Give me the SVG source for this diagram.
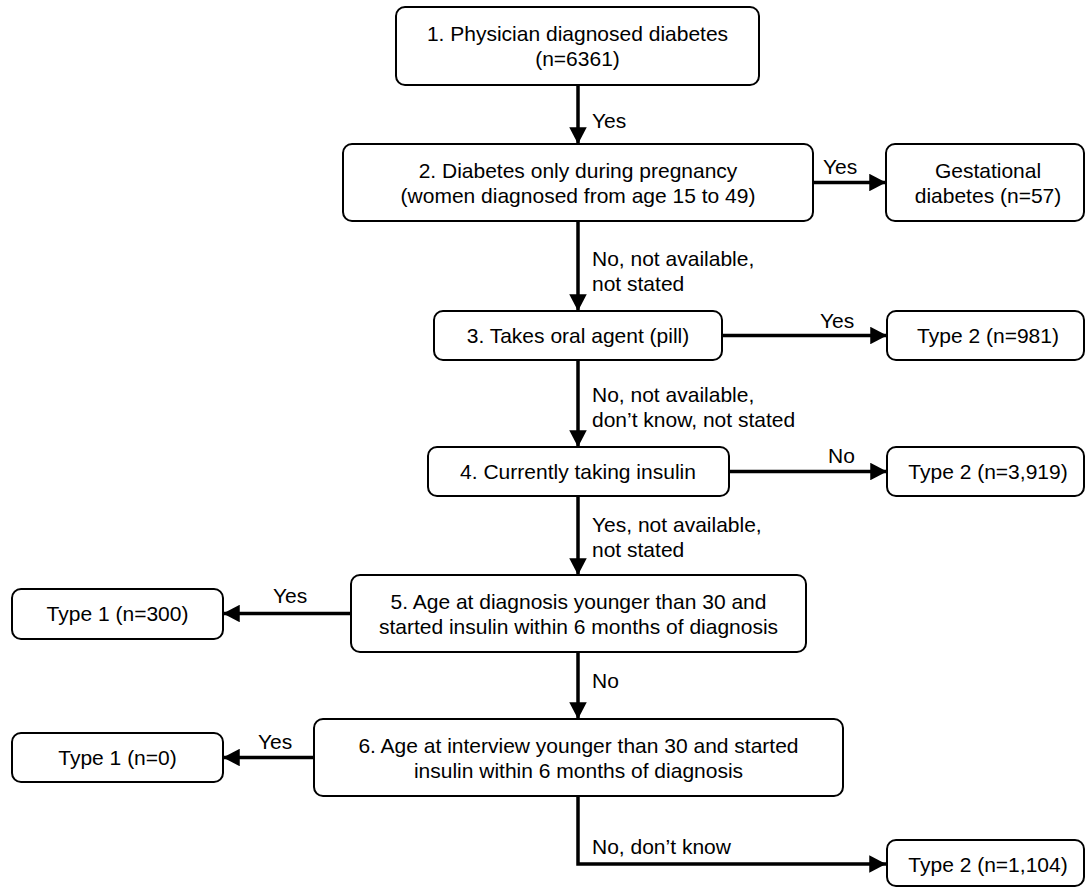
<svg xmlns="http://www.w3.org/2000/svg" width="1089" height="888" viewBox="0 0 1089 888">
  <style>
    .box { fill: #ffffff; stroke: #000000; stroke-width: 2; }
    .t { font-family: "Liberation Sans", Arial, sans-serif; font-size: 21px; fill: #000000; text-anchor: middle; }
    .lbl { font-family: "Liberation Sans", Arial, sans-serif; font-size: 21px; fill: #000000; }
    .conn { fill: none; stroke: #000000; stroke-width: 3.5; }
  </style>
  <defs>
    <marker id="arrow" markerWidth="5" markerHeight="5" refX="4.4" refY="2.3" orient="auto" markerUnits="strokeWidth" viewBox="0 0 4.4 4.6">
      <path d="M0,0 L4.4,2.3 L0,4.6 Z" fill="#000000"/>
    </marker>
  </defs>
  <rect width="1089" height="888" fill="#ffffff"/>

  <g id="connectors">
    <path class="conn" d="M578,85 V144" marker-end="url(#arrow)"/>
    <path class="conn" d="M813,182.5 H886" marker-end="url(#arrow)"/>
    <path class="conn" d="M578,221 V311" marker-end="url(#arrow)"/>
    <path class="conn" d="M722,335.5 H887" marker-end="url(#arrow)"/>
    <path class="conn" d="M578,360 V447" marker-end="url(#arrow)"/>
    <path class="conn" d="M729,471.5 H887" marker-end="url(#arrow)"/>
    <path class="conn" d="M578,496 V575" marker-end="url(#arrow)"/>
    <path class="conn" d="M351,613.5 H223" marker-end="url(#arrow)"/>
    <path class="conn" d="M578,652 V719" marker-end="url(#arrow)"/>
    <path class="conn" d="M314,757.5 H223" marker-end="url(#arrow)"/>
    <path class="conn" d="M578,796 V864 H886" marker-end="url(#arrow)"/>
    <text class="lbl" x="592" y="128">Yes</text>
    <text class="lbl" x="823" y="174">Yes</text>
    <text class="lbl" x="592" y="266">No, not available,</text>
    <text class="lbl" x="592" y="291">not stated</text>
    <text class="lbl" x="820" y="328">Yes</text>
    <text class="lbl" x="592" y="402">No, not available,</text>
    <text class="lbl" x="592" y="427">don’t know, not stated</text>
    <text class="lbl" x="828" y="463">No</text>
    <text class="lbl" x="592" y="532">Yes, not available,</text>
    <text class="lbl" x="592" y="557">not stated</text>
    <text class="lbl" x="273" y="603">Yes</text>
    <text class="lbl" x="592" y="688">No</text>
    <text class="lbl" x="258" y="749">Yes</text>
    <text class="lbl" x="592" y="854">No, don’t know</text>
  </g>

  <g id="node1">
    <rect class="box" x="396" y="7" width="363" height="78" rx="9"/>
    <text class="t" x="577.5" y="41">1. Physician diagnosed diabetes</text>
    <text class="t" x="577.5" y="66">(n=6361)</text>
  </g>
  <g id="node2">
    <rect class="box" x="343" y="144" width="470" height="77" rx="9"/>
    <text class="t" x="578" y="178">2. Diabetes only during pregnancy</text>
    <text class="t" x="578" y="203">(women diagnosed from age 15 to 49)</text>
  </g>
  <g id="gestational">
    <rect class="box" x="886" y="144" width="198" height="77" rx="9"/>
    <text class="t" x="988" y="178">Gestational</text>
    <text class="t" x="988" y="203">diabetes (n=57)</text>
  </g>
  <g id="node3">
    <rect class="box" x="434" y="311" width="288" height="49" rx="9"/>
    <text class="t" x="578" y="343">3. Takes oral agent (pill)</text>
  </g>
  <g id="type2a">
    <rect class="box" x="887" y="311" width="197" height="49" rx="9"/>
    <text class="t" x="988" y="343">Type 2 (n=981)</text>
  </g>
  <g id="node4">
    <rect class="box" x="428" y="447" width="301" height="49" rx="9"/>
    <text class="t" x="578" y="479">4. Currently taking insulin</text>
  </g>
  <g id="type2b">
    <rect class="box" x="887" y="447" width="197" height="49" rx="9"/>
    <text class="t" x="988" y="479">Type 2 (n=3,919)</text>
  </g>
  <g id="node5">
    <rect class="box" x="351" y="575" width="455" height="77" rx="9"/>
    <text class="t" x="578.5" y="609">5. Age at diagnosis younger than 30 and</text>
    <text class="t" x="578.5" y="634">started insulin within 6 months of diagnosis</text>
  </g>
  <g id="type1a">
    <rect class="box" x="12" y="589" width="211" height="50" rx="9"/>
    <text class="t" x="117.5" y="621">Type 1 (n=300)</text>
  </g>
  <g id="node6">
    <rect class="box" x="314" y="719" width="529" height="77" rx="9"/>
    <text class="t" x="578.5" y="753">6. Age at interview younger than 30 and started</text>
    <text class="t" x="578.5" y="778">insulin within 6 months of diagnosis</text>
  </g>
  <g id="type1b">
    <rect class="box" x="12" y="733" width="211" height="49" rx="9"/>
    <text class="t" x="117.5" y="765">Type 1 (n=0)</text>
  </g>
  <g id="type2c">
    <rect class="box" x="887" y="840" width="197" height="46" rx="9"/>
    <text class="t" x="988" y="872">Type 2 (n=1,104)</text>
  </g>
</svg>
